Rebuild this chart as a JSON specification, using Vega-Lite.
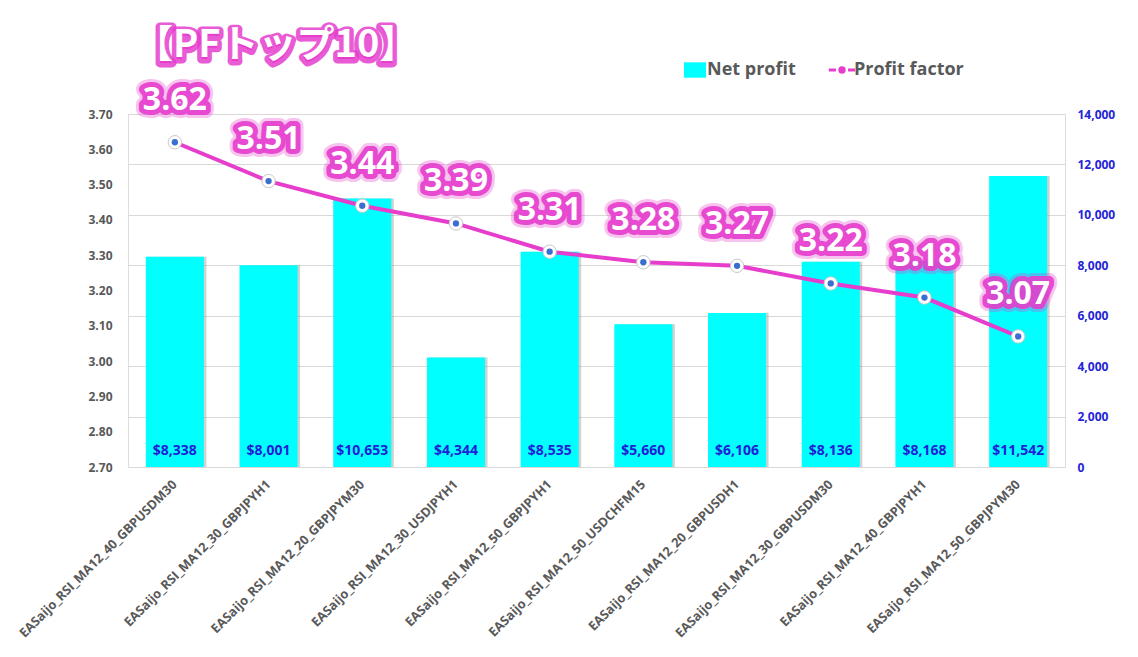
{
  "$schema": "https://vega.github.io/schema/vega-lite/v6.json",
  "width": 937,
  "height": 353,
  "autosize": {"type": "none"},
  "padding": {"left": 128, "top": 114, "right": 73, "bottom": 190},
  "background": "white",
  "title": {
    "text": "【PFトップ10】",
    "subtitle": "【PFトップ10】",
    "anchor": "start",
    "frame": "group",
    "orient": "top",
    "font": "Noto Sans CJK JP",
    "fontSize": 38,
    "fontWeight": "bold",
    "color": "#e63dcd",
    "subtitleFont": "Noto Sans CJK JP",
    "subtitleFontSize": 38,
    "subtitleFontWeight": "bold",
    "subtitleColor": "#ffffff",
    "subtitlePadding": -40,
    "dx": 7,
    "offset": -8,
    "encoding": {
      "stroke": {"value": "#e63dcd"},
      "strokeWidth": {"value": 9},
      "strokeJoin": {"value": "round"},
      "strokeOpacity": {"value": 0.85}
    }
  },
  "data": {
    "values": [
      {"name": "EASaijo_RSI_MA12_40_GBPUSDM30", "profit": 8338, "pf": 3.62},
      {"name": "EASaijo_RSI_MA12_30_GBPJPYH1", "profit": 8001, "pf": 3.51},
      {"name": "EASaijo_RSI_MA12_20_GBPJPYM30", "profit": 10653, "pf": 3.44},
      {"name": "EASaijo_RSI_MA12_30_USDJPYH1", "profit": 4344, "pf": 3.39},
      {"name": "EASaijo_RSI_MA12_50_GBPJPYH1", "profit": 8535, "pf": 3.31},
      {"name": "EASaijo_RSI_MA12_50_USDCHFM15", "profit": 5660, "pf": 3.28},
      {"name": "EASaijo_RSI_MA12_20_GBPUSDH1", "profit": 6106, "pf": 3.27},
      {"name": "EASaijo_RSI_MA12_30_GBPUSDM30", "profit": 8136, "pf": 3.22},
      {"name": "EASaijo_RSI_MA12_40_GBPJPYH1", "profit": 8168, "pf": 3.18},
      {"name": "EASaijo_RSI_MA12_50_GBPJPYM30", "profit": 11542, "pf": 3.07}
    ]
  },
  "resolve": {"scale": {"y": "independent"}},
  "layer": [
    {
      "layer": [
        {
          "mark": {"type": "bar", "color": "#9a9a9a", "opacity": 0.45, "xOffset": 2.5},
          "encoding": {
            "x": {
              "field": "name", "type": "nominal", "sort": null,
              "scale": {"paddingInner": 0.38, "paddingOuter": 0.19},
              "axis": {
                "title": null, "labelAngle": -45, "labelAlign": "right", "labelBaseline": "middle",
                "labelFont": "Open Sans", "labelFontSize": 12.8, "labelFontWeight": "bold", "labelColor": "#595959",
                "ticks": false, "domain": false, "labelPadding": 15, "labelLimit": 300, "labelOverlap": false
              }
            },
            "y": {
              "field": "profit", "type": "quantitative",
              "scale": {"domain": [0, 14000], "nice": false},
              "axis": {
                "orient": "right", "title": null, "values": [0, 2000, 4000, 6000, 8000, 10000, 12000, 14000], "tickCount": 8,
                "format": ",.0f", "grid": true, "gridColor": "#d9d9d9", "gridWidth": 1,
                "domain": false, "ticks": false, "labelPadding": 12, "labelOverlap": false,
                "labelFont": "Open Sans", "labelFontSize": 12, "labelFontWeight": "bold", "labelColor": "#2424d8"
              }
            }
          }
        },
        {
          "mark": {"type": "bar", "color": "#00ffff"},
          "encoding": {
            "x": {"field": "name", "type": "nominal", "sort": null},
            "y": {"field": "profit", "type": "quantitative"},
            "color": {
              "datum": "Net profit",
              "scale": {"domain": ["Net profit", "Profit factor"], "range": ["#00ffff", "#e63dcd"]},
              "legend": {
                "orient": "none", "legendX": 558, "legendY": -53, "direction": "horizontal", "title": null,
                "labelFont": "Open Sans", "labelFontSize": 18, "labelFontWeight": "bold", "labelColor": "#595959",
                "symbolSize": 484, "columnPadding": 26, "labelOffset": 3,
                "encode": {
                  "symbols": {
                    "update": {
                      "shape": {"signal": "datum.value === 'Net profit' ? 'M-1,-0.7H1V0.7H-1Z' : 'M-1.2,0H-0.55M0.55,0H1.2M0.2,0A0.2,0.2 0 1,1 -0.2,0A0.2,0.2 0 1,1 0.2,0Z'"},
                      "fill": {"signal": "datum.value === 'Net profit' ? '#00ffff' : '#3b6fcf'"},
                      "stroke": {"signal": "datum.value === 'Net profit' ? '#00ffff' : '#e63dcd'"},
                      "strokeWidth": {"signal": "datum.value === 'Net profit' ? 0 : 3"},
                      "opacity": {"value": 1}
                    }
                  }
                }
              }
            }
          }
        },
        {
          "mark": {"type": "text", "baseline": "bottom", "dy": -9, "font": "Open Sans", "fontSize": 14, "fontWeight": "bold", "color": "#2020d8"},
          "encoding": {
            "x": {"field": "name", "type": "nominal", "sort": null},
            "y": {"datum": 0, "type": "quantitative"},
            "text": {"field": "profit", "type": "quantitative", "format": "$,.0f"}
          }
        }
      ]
    },
    {
      "layer": [
        {
          "mark": {"type": "line", "strokeWidth": 4},
          "encoding": {
            "x": {"field": "name", "type": "nominal", "sort": null},
            "y": {
              "field": "pf", "type": "quantitative",
              "scale": {"domain": [2.7, 3.7], "nice": false, "zero": false},
              "axis": {
                "orient": "left", "title": null, "values": [2.7, 2.8, 2.9, 3.0, 3.1, 3.2, 3.3, 3.4, 3.5, 3.6, 3.7], "tickCount": 11,
                "format": ".2f", "grid": false, "domain": false, "ticks": false, "labelPadding": 16, "labelOverlap": false,
                "labelFont": "Open Sans", "labelFontSize": 12, "labelFontWeight": "bold", "labelColor": "#595959"
              }
            },
            "color": {"datum": "Profit factor"}
          }
        },
        {
          "mark": {"type": "point", "filled": true, "shape": "circle", "size": 180, "color": "#ffffff", "stroke": "#c8c8c8", "strokeWidth": 1, "opacity": 1},
          "encoding": {
            "x": {"field": "name", "type": "nominal", "sort": null},
            "y": {"field": "pf", "type": "quantitative"}
          }
        },
        {
          "mark": {"type": "point", "filled": true, "shape": "circle", "size": 40, "color": "#3b6fcf", "opacity": 1},
          "encoding": {
            "x": {"field": "name", "type": "nominal", "sort": null},
            "y": {"field": "pf", "type": "quantitative"}
          }
        },
        {
          "mark": {"type": "text", "baseline": "middle", "dy": -42, "font": "Open Sans", "fontSize": 32, "fontWeight": "bold", "color": "#e63dcd", "stroke": "#e63dcd", "strokeWidth": 16, "strokeJoin": "round", "opacity": 0.3},
          "encoding": {
            "x": {"field": "name", "type": "nominal", "sort": null},
            "y": {"field": "pf", "type": "quantitative"},
            "text": {"field": "pf", "type": "quantitative", "format": ".2f"}
          }
        },
        {
          "mark": {"type": "text", "baseline": "middle", "dy": -42, "font": "Open Sans", "fontSize": 32, "fontWeight": "bold", "color": "#e63dcd", "stroke": "#e63dcd", "strokeWidth": 10, "strokeJoin": "round", "opacity": 0.9},
          "encoding": {
            "x": {"field": "name", "type": "nominal", "sort": null},
            "y": {"field": "pf", "type": "quantitative"},
            "text": {"field": "pf", "type": "quantitative", "format": ".2f"}
          }
        },
        {
          "mark": {"type": "text", "baseline": "middle", "dy": -42, "font": "Open Sans", "fontSize": 32, "fontWeight": "bold", "color": "#ffffff"},
          "encoding": {
            "x": {"field": "name", "type": "nominal", "sort": null},
            "y": {"field": "pf", "type": "quantitative"},
            "text": {"field": "pf", "type": "quantitative", "format": ".2f"}
          }
        }
      ]
    }
  ]
}
